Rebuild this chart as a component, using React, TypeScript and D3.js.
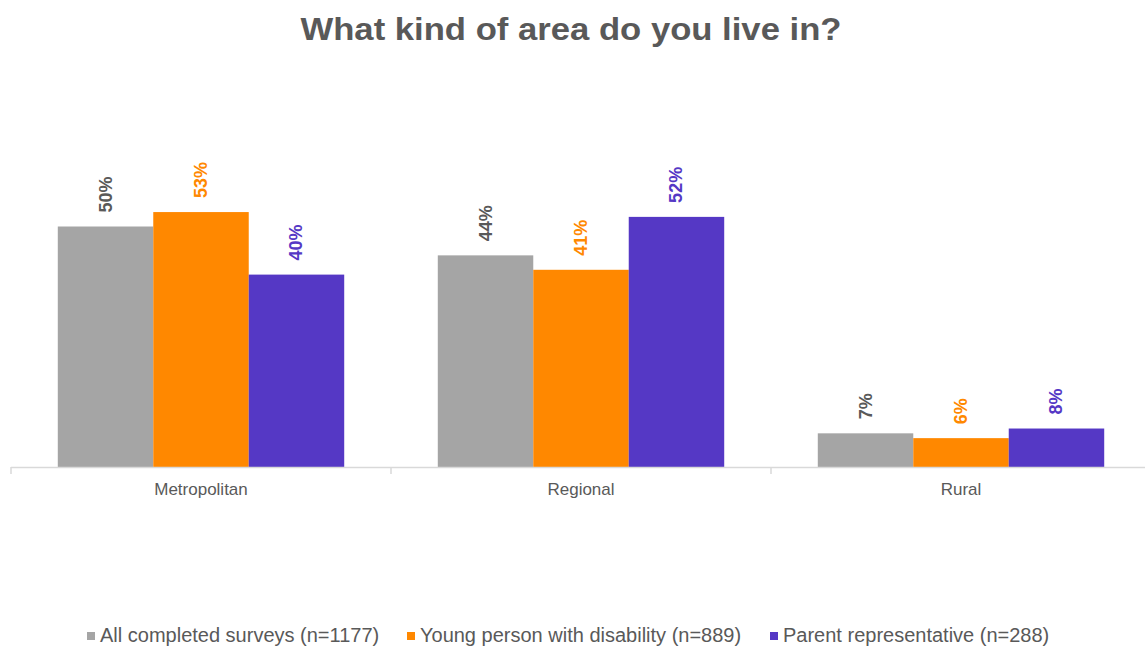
import { useEffect, useRef } from "react";
import * as d3 from "d3";

const categories = ["Metropolitan", "Regional", "Rural"];
const seriesNames = [
  "All completed surveys (n=1177)",
  "Young person with disability (n=889)",
  "Parent representative (n=288)"
];
const allSurveys = [50, 44, 7];
const youngPerson = [53, 41, 6];
const parentRep = [40, 52, 8];
const seriesColors = ["#A5A5A5", "#FF8800", "#5538C5"];
const labelColors = ["#595959", "#FF8800", "#5538C5"];
const title = "What kind of area do you live in?";

const W = 1145, H = 647;

export default function App() {
  const ref = useRef<SVGSVGElement | null>(null);

  useEffect(() => {
    const svg = d3.select(ref.current);
    svg.selectAll("*").remove();
    svg.attr("viewBox", `0 0 ${W} ${H}`);

    const values = [allSurveys, youngPerson, parentRep];
    const baseY = 467;

    const x = d3.scaleBand<string>()
      .domain(categories)
      .range([11, 1151])
      .paddingInner(0)
      .paddingOuter(0);

    const xs = d3.scaleBand<number>()
      .domain([0, 1, 2])
      .range([0, x.bandwidth()])
      .paddingInner(0)
      .paddingOuter(0.49);

    const y = d3.scaleLinear()
      .domain([0, 60])
      .range([baseY, baseY - 60 * 4.81]);

    svg.append("rect").attr("width", W).attr("height", H).attr("fill", "white");

    svg.append("text")
      .attr("x", 571)
      .attr("y", 40)
      .attr("text-anchor", "middle")
      .attr("font-family", "Liberation Sans, Arial, sans-serif")
      .attr("font-weight", "bold")
      .attr("font-size", 32)
      .attr("textLength", 541)
      .attr("lengthAdjust", "spacingAndGlyphs")
      .attr("fill", "#595959")
      .text(title);

    // bars
    categories.forEach((cat, ci) => {
      const g = svg.append("g").attr("transform", `translate(${x(cat)},0)`);
      values.forEach((vals, si) => {
        const v = vals[ci];
        g.append("rect")
          .attr("x", xs(si)!)
          .attr("y", y(v))
          .attr("width", xs.bandwidth())
          .attr("height", baseY - y(v))
          .attr("fill", seriesColors[si]);

        const cx = xs(si)! + xs.bandwidth() / 2;
        g.append("text")
          .attr("transform", `translate(${cx},${y(v) - 14}) rotate(-90)`)
          .attr("dominant-baseline", "central")
          .attr("font-family", "Liberation Sans Narrow, Arial Narrow, Liberation Sans, sans-serif")
          .attr("font-weight", "bold")
          .attr("font-size", 18)
          .attr("fill", labelColors[si])
          .text(`${v}%`);
      });
    });

    // axis
    const axis = d3.axisBottom(x).tickSize(0).tickSizeOuter(0);
    const ag = svg.append("g")
      .attr("transform", `translate(0,${baseY + 0.5})`)
      .call(axis as any);
    ag.select("path.domain").remove();
    ag.selectAll("text")
      .attr("fill", "#595959")
      .attr("font-family", "Liberation Sans, Arial, sans-serif")
      .attr("font-size", 17)
      .attr("dy", "0")
      .attr("y", 27);

    svg.append("line")
      .attr("x1", 11).attr("x2", W)
      .attr("y1", baseY + 0.5).attr("y2", baseY + 0.5)
      .attr("stroke", "#D9D9D9").attr("stroke-width", 1.5);

    const boundaries = categories.map(c => x(c)!).concat([x.range()[1]]);
    svg.selectAll("line.tick-b")
      .data(boundaries)
      .enter()
      .append("line")
      .attr("class", "tick-b")
      .attr("x1", d => d).attr("x2", d => d)
      .attr("y1", baseY).attr("y2", baseY + 7)
      .attr("stroke", "#D9D9D9").attr("stroke-width", 1.5);

    // legend
    const legendX = [87, 407, 770];
    const lg = svg.append("g");
    seriesNames.forEach((name, i) => {
      lg.append("rect")
        .attr("x", legendX[i]).attr("y", 632)
        .attr("width", 8).attr("height", 8)
        .attr("fill", seriesColors[i]);
      lg.append("text")
        .attr("x", legendX[i] + 13)
        .attr("y", 642)
        .attr("font-family", "Liberation Sans, Arial, sans-serif")
        .attr("font-size", 20)
        .attr("fill", "#595959")
        .text(name);
    });
  }, []);

  return (
    <svg
      ref={ref}
      width={W}
      height={H}
      style={{ position: "absolute", left: 0, top: 0, display: "block" }}
    />
  );
}
